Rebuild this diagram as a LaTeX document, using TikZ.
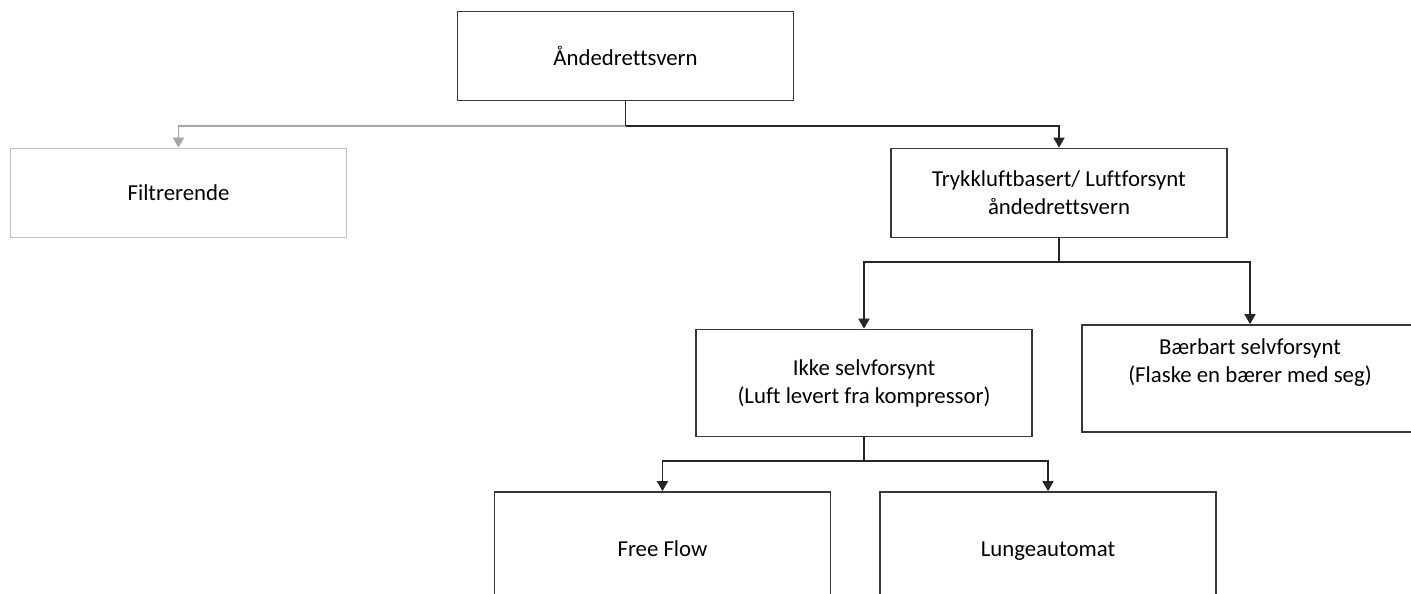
\documentclass[tikz,border=0pt]{standalone}
\usepackage{fontspec}
\setmainfont{Carlito}[Ligatures=NoCommon]
\usetikzlibrary{arrows.meta}
\begin{document}
\begin{tikzpicture}[x=1pt,y=-1pt,
  box/.style={draw=black!78, line width=1.7pt, fill=white, minimum width=336pt, minimum height=89pt, align=center, inner sep=0pt, font=\fontsize{22.8}{28}\selectfont},
  tall/.style={box, minimum height=107pt},
  graybox/.style={box, draw=black!25},
  txt/.style={align=center, inner sep=0pt, font=\fontsize{22.8}{28}\selectfont},
  line/.style={line width=1.7pt, draw=black!85},
  conn/.style={line, -{Triangle[width=11pt,length=10pt]}},
  gconn/.style={conn, draw=black!35}]
\useasboundingbox (0,0) rectangle (1411,594);
\clip (0,0) rectangle (1411,594);
\fill[white] (0,0) rectangle (1411,594);

\node[box] (top) at (625.5,56) {Åndedrettsvern};
\node[graybox] (filt) at (178.5,193) {Filtrerende};
\node[box] (tryk) at (1059,193) {Trykkluftbasert/ Luftforsynt\\åndedrettsvern};
\node[tall] (ikke) at (864,383) {Ikke selvforsynt\\(Luft levert fra kompressor)};
\node[tall] (baer) at (1250,378.5) {};
\node[txt] (baertxt) at (1250,363) {Bærbart selvforsynt\\(Flaske en bærer med seg)};
\node[tall] (free) at (662.5,545.5) {};
\node[txt, anchor=base] (freetxt) at (662.5,556) {Free Flow};
\node[tall] (lunge) at (1048,545.5) {};
\node[txt, anchor=base] (lungetxt) at (1048,556) {Lungeautomat};

\coordinate (j1) at (top.south |- 0,126);
\coordinate (j2) at (tryk.south |- 0,262);
\coordinate (j3) at (ikke.south |- 0,461);

\draw[gconn] (j1) -| (filt.north);
\draw[line] (top.south) -- (j1);
\draw[conn] (j1) -| (tryk.north);

\draw[line] (tryk.south) -- (j2);
\draw[conn] (j2) -| (ikke.north);
\draw[conn] (j2) -| (baer.north);

\draw[line] (ikke.south) -- (j3);
\draw[conn] (j3) -| (free.north);
\draw[conn] (j3) -| (lunge.north);
\end{tikzpicture}
\end{document}
